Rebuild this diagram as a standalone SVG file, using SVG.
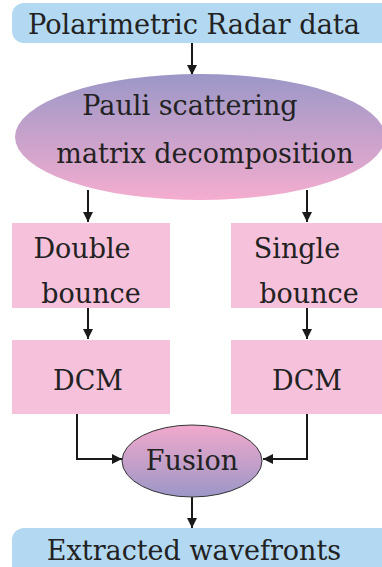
<svg xmlns="http://www.w3.org/2000/svg" width="382" height="567" viewBox="0 0 382 567">
<defs>
<linearGradient id="gDown" x1="0" y1="0" x2="0" y2="1">
<stop offset="0" stop-color="#9b97c7"/>
<stop offset="1" stop-color="#f4adcf"/>
</linearGradient>
<linearGradient id="gUp" x1="0" y1="0" x2="0" y2="1">
<stop offset="0" stop-color="#f2a9cc"/>
<stop offset="1" stop-color="#9b97c7"/>
</linearGradient>
<marker id="arr" viewBox="0 0 10 10" refX="10" refY="5" markerWidth="10" markerHeight="10" markerUnits="userSpaceOnUse" orient="auto">
<path d="M0,0 L10,5 L0,10 Z" fill="#1a1a1a"/>
</marker>
<style>
.t{font-family:'DejaVu Serif',serif;font-size:27px;fill:#222;text-anchor:middle}
.blue{fill:#b3d8f1}
.pink{fill:#f6c1da}
.conn{fill:none;stroke:#1a1a1a;stroke-width:2;marker-end:url(#arr)}
</style>
</defs>
<g id="connectors">
<path class="conn" d="M192,43 V75"/>
<path class="conn" d="M88,190 V222"/>
<path class="conn" d="M307,190 V222"/>
<path class="conn" d="M88,308 V339"/>
<path class="conn" d="M307,308 V339"/>
<path class="conn" d="M77,414 V459 H122"/>
<path class="conn" d="M307,414 V459 H263"/>
<path class="conn" d="M192,497 V528"/>
</g>
<g id="radar">
<rect class="blue" x="12" y="3" width="385" height="40" rx="12"/>
<text class="t" x="194" y="34" textLength="332" lengthAdjust="spacingAndGlyphs">Polarimetric Radar data</text>
</g>
<g id="pauli">
<ellipse cx="200" cy="137" rx="185" ry="63" fill="url(#gDown)"/>
<text class="t" x="190" y="115">Pauli scattering</text>
<text class="t" x="205" y="163">matrix decomposition</text>
</g>
<g id="double">
<rect class="pink" x="12" y="223" width="158" height="85"/>
<text class="t" x="82" y="258">Double</text>
<text class="t" x="91" y="303">bounce</text>
</g>
<g id="single">
<rect class="pink" x="231" y="223" width="160" height="85"/>
<text class="t" x="297" y="258">Single</text>
<text class="t" x="309" y="303">bounce</text>
</g>
<g id="dcm1">
<rect class="pink" x="12" y="340" width="158" height="74"/>
<text class="t" x="88" y="390">DCM</text>
</g>
<g id="dcm2">
<rect class="pink" x="231" y="340" width="160" height="74"/>
<text class="t" x="307" y="390">DCM</text>
</g>
<g id="fusion">
<ellipse cx="192" cy="461" rx="70" ry="36" fill="url(#gUp)" stroke="#333" stroke-width="1"/>
<text class="t" x="192" y="470">Fusion</text>
</g>
<g id="extracted">
<rect class="blue" x="12" y="528" width="385" height="50" rx="12"/>
<text class="t" x="194" y="560">Extracted wavefronts</text>
</g>
</svg>
